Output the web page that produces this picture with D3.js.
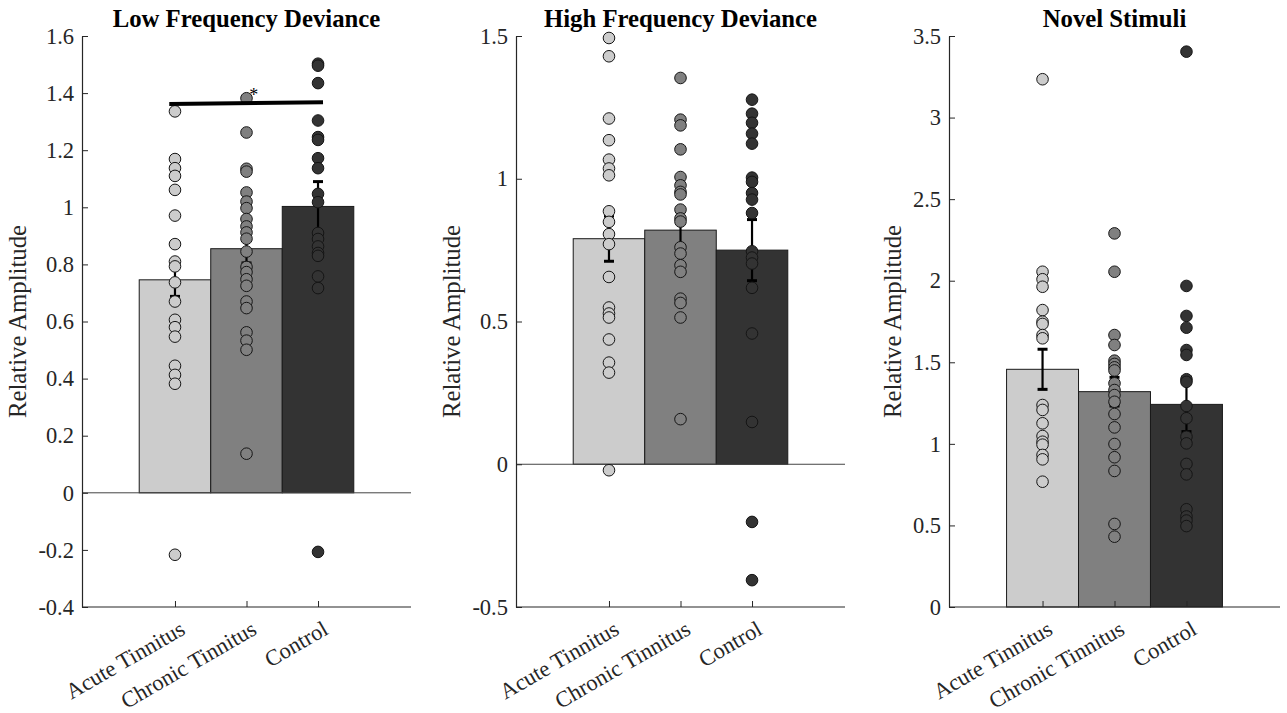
<!DOCTYPE html>
<html>
<head>
<meta charset="utf-8">
<script src="https://cdn.jsdelivr.net/npm/d3@7/dist/d3.min.js"></script>
<style>
  body { margin: 0; background: #fff; }
  svg { display: block; }
</style>
</head>
<body>
<svg id="chart" width="1287" height="713"></svg>
<script>
// Groups and panel titles
const groups = ["Acute Tinnitus", "Chronic Tinnitus", "Control"];
const titles = ["Low Frequency Deviance", "High Frequency Deviance", "Novel Stimuli"];

// Low frequency deviance: individual relative amplitudes per group
const acuteLF = [1.336, 1.169, 1.137, 1.110, 1.061, 0.971, 0.871, 0.810, 0.793, 0.737, 0.670, 0.606, 0.580, 0.547, 0.445, 0.413, 0.382, -0.217];
const chronicLF = [1.382, 1.262, 1.135, 1.125, 1.052, 1.020, 0.997, 0.959, 0.933, 0.912, 0.890, 0.845, 0.791, 0.773, 0.748, 0.725, 0.670, 0.647, 0.562, 0.533, 0.501, 0.137];
const controlLF = [1.503, 1.496, 1.435, 1.304, 1.246, 1.236, 1.172, 1.137, 1.047, 1.018, 0.910, 0.889, 0.863, 0.840, 0.830, 0.758, 0.717, -0.207];
const meanLF = [0.746, 0.855, 1.003];
const semLF = [0.058, 0.050, 0.087];

// High frequency deviance
const acuteHF = [1.493, 1.429, 1.211, 1.135, 1.067, 1.036, 1.012, 0.886, 0.849, 0.806, 0.771, 0.656, 0.549, 0.528, 0.514, 0.437, 0.356, 0.321, -0.021];
const chronicHF = [1.353, 1.207, 1.187, 1.103, 1.006, 0.977, 0.954, 0.945, 0.892, 0.861, 0.850, 0.760, 0.738, 0.697, 0.674, 0.580, 0.565, 0.514, 0.158];
const controlHF = [1.277, 1.228, 1.196, 1.158, 1.123, 1.004, 0.989, 0.950, 0.927, 0.880, 0.746, 0.724, 0.703, 0.618, 0.458, 0.148, -0.202, -0.406];
const meanHF = [0.790, 0.820, 0.750];
const semHF = [0.079, 0.065, 0.107];

// Novel stimuli
const acuteNS = [3.235, 2.055, 2.009, 1.963, 1.820, 1.749, 1.735, 1.667, 1.647, 1.238, 1.208, 1.126, 1.048, 1.013, 0.995, 0.932, 0.905, 0.768];
const chronicNS = [2.290, 2.055, 1.667, 1.606, 1.510, 1.490, 1.469, 1.450, 1.371, 1.330, 1.299, 1.258, 1.183, 1.101, 0.999, 0.918, 0.834, 0.509, 0.431];
const controlNS = [3.404, 1.968, 1.784, 1.712, 1.575, 1.545, 1.396, 1.380, 1.232, 1.157, 1.044, 1.003, 0.877, 0.813, 0.599, 0.555, 0.530, 0.496];
const meanNS = [1.457, 1.320, 1.242];
const semNS = [0.123, 0.088, 0.167];

// Y axis ranges and tick values
const yDomainLF = [-0.4, 1.6];
const yDomainHF = [-0.5, 1.5];
const yDomainNS = [0, 3.5];
const yTicksLF = [-0.4, -0.2, 0, 0.2, 0.4, 0.6, 0.8, 1, 1.2, 1.4, 1.6];
const yTicksHF = [-0.5, 0, 0.5, 1, 1.5];
const yTicksNS = [0, 0.5, 1, 1.5, 2, 2.5, 3, 3.5];

// Significance bracket between acute tinnitus and control (low frequency)
const sigX = [0.92, 3.07];
const sigY = [1.362, 1.368];
const sigMarkX = 2.1;
const sigMarkY = 1.406;
const sigMark = "*";

const groupColors = ["#cccccc", "#808080", "#333333"];

const panels = [
  { title: titles[0], points: [acuteLF, chronicLF, controlLF], mean: meanLF, sem: semLF, domain: yDomainLF, ticks: yTicksLF, sig: true },
  { title: titles[1], points: [acuteHF, chronicHF, controlHF], mean: meanHF, sem: semHF, domain: yDomainHF, ticks: yTicksHF, sig: false },
  { title: titles[2], points: [acuteNS, chronicNS, controlNS], mean: meanNS, sem: semNS, domain: yDomainNS, ticks: yTicksNS, sig: false }
];

const layout = [
  { left: 82, right: 411 },
  { left: 516, right: 845 },
  { left: 949, right: 1280 }
];
const plotTop = 36, plotBottom = 607;
const axisColor = "#262626";
const tickFont = 22.5, labelFont = 24.75;
const FONT = "'Liberation Serif', 'Times New Roman', Tinos, serif";

const svg = d3.select("#chart");
const fmt = v => String(Math.round(v * 10) / 10);

panels.forEach((p, pi) => {
  const L = layout[pi];
  const x = d3.scaleLinear().domain([-0.3, 4.3]).range([L.left, L.right]);
  const y = d3.scaleLinear().domain(p.domain).range([plotBottom, plotTop]);
  const g = svg.append("g");
  const barW = x(1.5) - x(0.5);

  // bars
  g.selectAll("rect.bar").data(p.mean).enter().append("rect")
    .attr("x", (d, i) => x(i + 1) - barW / 2)
    .attr("width", barW)
    .attr("y", d => y(Math.max(0, d)))
    .attr("height", d => Math.abs(y(d) - y(0)))
    .attr("fill", (d, i) => groupColors[i])
    .attr("stroke", "#1a1a1a")
    .attr("stroke-width", 1);

  // baseline at zero
  if (p.domain[0] < 0) {
    g.append("line")
      .attr("x1", L.left).attr("x2", L.right)
      .attr("y1", y(0)).attr("y2", y(0))
      .attr("stroke", "#444").attr("stroke-width", 1);
  }

  // error bars (mean ± SEM)
  const capW = 5;
  p.mean.forEach((m, i) => {
    const cx = x(i + 1);
    const eb = g.append("g").attr("stroke", "#000");
    eb.append("line").attr("x1", cx).attr("x2", cx)
      .attr("y1", y(m - p.sem[i])).attr("y2", y(m + p.sem[i])).attr("stroke-width", 2.2);
    [m - p.sem[i], m + p.sem[i]].forEach(v => {
      eb.append("line").attr("x1", cx - capW).attr("x2", cx + capW)
        .attr("y1", y(v)).attr("y2", y(v)).attr("stroke-width", 3);
    });
  });

  // individual data points
  p.points.forEach((arr, i) => {
    g.selectAll(null).data(arr).enter().append("circle")
      .attr("cx", x(i + 1))
      .attr("cy", d => y(d))
      .attr("r", 5.8)
      .attr("fill", groupColors[i])
      .attr("stroke", "#151515")
      .attr("stroke-width", 1);
  });

  // axes (ticks point inward)
  const yAxis = d3.axisLeft(y).tickValues(p.ticks).tickFormat(fmt).tickSizeInner(-6).tickSizeOuter(0).tickPadding(8);
  const ya = g.append("g").attr("transform", `translate(${L.left},0)`).call(yAxis)
    .attr("font-family", null).attr("font-size", null);
  ya.select(".domain").attr("stroke", axisColor).attr("stroke-width", 1.2);
  ya.selectAll(".tick line").attr("stroke", axisColor);
  ya.selectAll(".tick text").attr("fill", axisColor)
    .style("font-size", tickFont + "px")
    .style("font-family", FONT);

  const xAxis = d3.axisBottom(x).tickValues([1, 2, 3]).tickFormat("").tickSizeInner(-6).tickSizeOuter(0);
  const xa = g.append("g").attr("transform", `translate(0,${plotBottom})`).call(xAxis);
  xa.select(".domain").attr("stroke", axisColor).attr("stroke-width", 1.2)
    .attr("d", `M${L.left},0H${L.right}`);
  xa.selectAll(".tick line").attr("stroke", axisColor);

  // rotated category labels
  groups.forEach((name, i) => {
    g.append("text")
      .attr("transform", `translate(${x(i + 1) + 4},${plotBottom + 13}) rotate(-30)`)
      .attr("text-anchor", "end")
      .attr("dy", "0.68em")
      .attr("fill", axisColor)
      .style("font-family", FONT)
      .style("font-size", tickFont + "px")
      .text(name);
  });

  // y label, placed left of the widest tick label
  let maxW = 0;
  ya.selectAll(".tick text").each(function () { maxW = Math.max(maxW, this.getComputedTextLength()); });
  const lx = L.left - 8 - maxW - 12;
  g.append("text")
    .attr("transform", `translate(${lx},${(plotTop + plotBottom) / 2}) rotate(-90)`)
    .attr("text-anchor", "middle")
    .attr("fill", axisColor)
    .style("font-family", FONT)
    .style("font-size", labelFont + "px")
    .text("Relative Amplitude");

  // title
  g.append("text")
    .attr("x", (L.left + L.right) / 2)
    .attr("y", 27)
    .attr("text-anchor", "middle")
    .attr("fill", "#000")
    .style("font-family", FONT)
    .style("font-size", labelFont + "px")
    .style("font-weight", "bold")
    .text(p.title);

  // significance marker
  if (p.sig) {
    g.append("line")
      .attr("x1", x(sigX[0])).attr("x2", x(sigX[1]))
      .attr("y1", y(sigY[0])).attr("y2", y(sigY[1]))
      .attr("stroke", "#000").attr("stroke-width", 4);
    g.append("text")
      .attr("x", x(sigMarkX)).attr("y", y(sigMarkY))
      .attr("text-anchor", "middle")
      .attr("dy", "0.55em")
      .style("font-family", FONT)
      .style("font-size", "18px")
      .text(sigMark);
  }
});
</script>
</body>
</html>
